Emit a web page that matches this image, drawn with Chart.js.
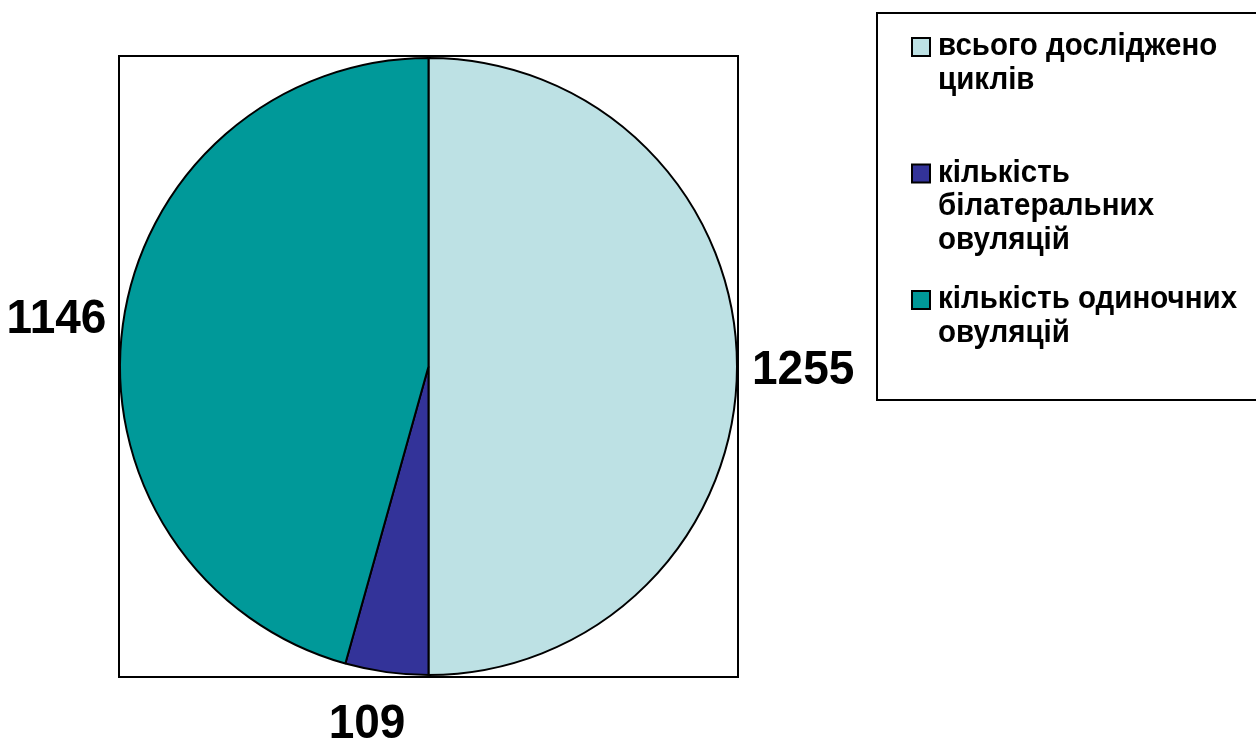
<!DOCTYPE html>
<html>
<head>
<meta charset="utf-8">
<script src="https://cdn.jsdelivr.net/npm/chart.js@4.4.1/dist/chart.umd.min.js"></script>
<style>
  html, body { margin: 0; padding: 0; background: #ffffff; }
  #wrap { position: relative; width: 1256px; height: 738px; }
</style>
</head>
<body>
<div id="wrap"><canvas id="c" width="1256" height="738"></canvas></div>
<script>
const categories = ['всього досліджено циклів', 'кількість білатеральних овуляцій', 'кількість одиночних овуляцій'];
const values = [1255, 109, 1146];
const colors = ['#BDE1E4', '#333399', '#009999'];

const FONT = '"Liberation Sans", Arial, sans-serif';

function stretchedText(ctx, txt, x, y, k) {
  ctx.save();
  ctx.translate(x, y);
  ctx.scale(1, k);
  ctx.fillText(txt, 0, 0);
  ctx.restore();
}

const framePlugin = {
  id: 'frame',
  beforeDatasetsDraw(chart) {
    const a = chart.chartArea, ctx = chart.ctx;
    ctx.save();
    ctx.strokeStyle = '#000';
    ctx.lineWidth = 2;
    ctx.strokeRect(a.left, a.top, a.right - a.left, a.bottom - a.top);
    ctx.restore();
  }
};

const labelPlugin = {
  id: 'outLabels',
  afterDatasetsDraw(chart) {
    const ctx = chart.ctx;
    const meta = chart.getDatasetMeta(0);
    const fs = 46, k = 1.04;
    ctx.save();
    ctx.font = 'bold ' + fs + 'px ' + FONT;
    ctx.fillStyle = '#000';
    ctx.textAlign = 'center';
    ctx.textBaseline = 'alphabetic';
    meta.data.forEach((arc, i) => {
      const p = arc.getProps(['x', 'y', 'startAngle', 'endAngle', 'outerRadius'], true);
      const mid = (p.startAngle + p.endAngle) / 2;
      const cx = Math.cos(mid), sy = Math.sin(mid);
      const txt = String(chart.data.datasets[0].data[i]);
      const w = ctx.measureText(txt).width;
      const h = fs * 0.716 * k;
      const gap = 15 + 12 * sy * sy;
      const d = p.outerRadius + gap + Math.abs(cx) * w / 2 + Math.abs(sy) * h / 2;
      const x = p.x + cx * d * (1 + 0.285 * Math.pow(sy, 8)), y = p.y + sy * d;
      stretchedText(ctx, txt, x, y + h / 2, k);
    });
    ctx.restore();
  }
};

const legendPlugin = {
  id: 'boxLegend',
  afterDraw(chart) {
    const ctx = chart.ctx;
    const box = { left: 877, top: 13, right: 1262, bottom: 400 };
    ctx.save();
    ctx.strokeStyle = '#000';
    ctx.lineWidth = 2;
    ctx.strokeRect(box.left, box.top, box.right - box.left, box.bottom - box.top);
    const fs = 29.5, k = 1.07;
    ctx.font = 'bold ' + fs + 'px ' + FONT;
    ctx.textAlign = 'left';
    ctx.textBaseline = 'alphabetic';
    const textX = 938, swX = 912, sw = 18, maxW = 305, lineH = 33.5;
    const firstY = 47, slot = 126.5;
    const xh = fs * 0.519 * k;
    chart.data.labels.forEach((lab, i) => {
      const words = lab.split(' ');
      const lines = [];
      let cur = '';
      words.forEach(wd => {
        const t = cur ? cur + ' ' + wd : wd;
        if (cur && ctx.measureText(t).width > maxW) { lines.push(cur); cur = wd; }
        else cur = t;
      });
      if (cur) lines.push(cur);
      const y0 = firstY + i * slot;
      ctx.fillStyle = chart.data.datasets[0].backgroundColor[i];
      ctx.fillRect(swX, y0 - sw / 2, sw, sw);
      ctx.lineWidth = 2;
      ctx.strokeStyle = '#000';
      ctx.strokeRect(swX, y0 - sw / 2, sw, sw);
      ctx.fillStyle = '#000';
      lines.forEach((ln, j) => stretchedText(ctx, ln, textX, y0 + j * lineH + xh / 2, k));
    });
    ctx.restore();
  }
};

new Chart(document.getElementById('c'), {
  type: 'pie',
  data: {
    labels: categories,
    datasets: [{
      data: values,
      backgroundColor: colors,
      borderColor: '#000000',
      borderWidth: 2,
      hoverOffset: 0,
      offset: 0
    }]
  },
  options: {
    responsive: false,
    animation: false,
    events: [],
    layout: { padding: { left: 119, top: 56, right: 518, bottom: 61 } },
    plugins: {
      legend: { display: false },
      tooltip: { enabled: false }
    }
  },
  plugins: [framePlugin, labelPlugin, legendPlugin]
});
</script>
</body>
</html>
